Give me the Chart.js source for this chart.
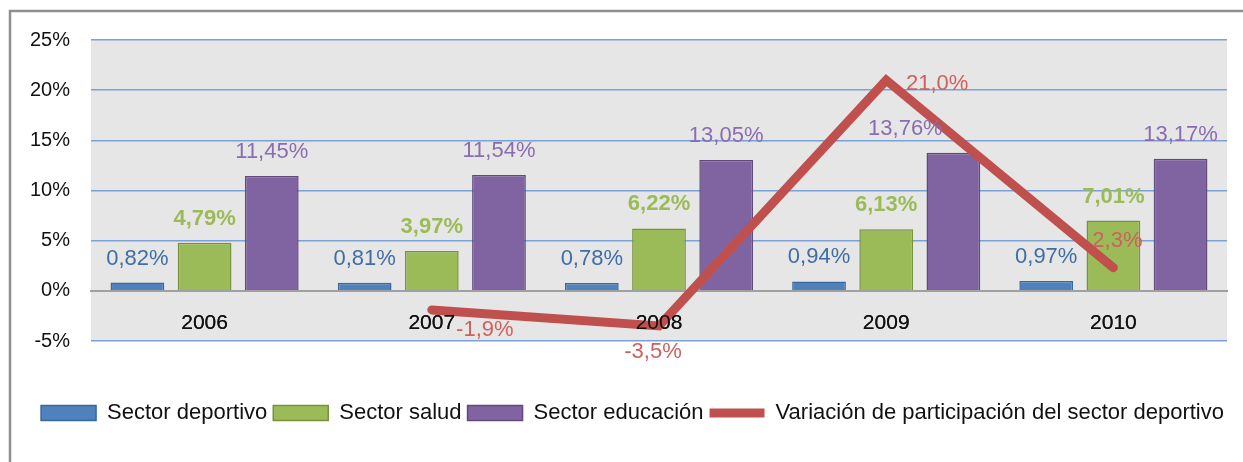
<!DOCTYPE html>
<html>
<head>
<meta charset="utf-8">
<script src="https://cdn.jsdelivr.net/npm/chart.js@4.4.1/dist/chart.umd.min.js"></script>
<style>
  html, body { margin: 0; padding: 0; background: #ffffff; }
  #wrap { width: 1243px; height: 462px; }
</style>
</head>
<body>
<div id="wrap"><canvas id="chart" width="1243" height="462"></canvas></div>
<script>
// Data
const years = ['2006', '2007', '2008', '2009', '2010'];
const deportivo = [0.82, 0.81, 0.78, 0.94, 0.97];
const salud = [4.79, 3.97, 6.22, 6.13, 7.01];
const educacion = [11.45, 11.54, 13.05, 13.76, 13.17];
const variacion = [null, -1.9, -3.5, 21.0, 2.3];
const yTicks = [-5, 0, 5, 10, 15, 20, 25];

// label nudges (px) so the labels sit where the original put them
const educacionShift = [[0, 0], [0, 0], [0, 0], [-48, 0], [0, 0]];
const variacionShift = [[0, 0], [53, 20], [-6, 26], [51, 4], [4, -27]];

const FONT = "'Liberation Sans', Arial, sans-serif";

const fmt = (v, d) => v.toFixed(d).replace('.', ',') + '%';

// grey plot area + frame of the original picture
const backdrop = {
    id: 'backdrop',
    beforeDraw(chart) {
        const { ctx, chartArea: a } = chart;
        ctx.save();
        ctx.fillStyle = '#e6e6e6';
        ctx.fillRect(a.left, a.top, a.right - a.left, a.bottom - a.top);
        ctx.strokeStyle = '#8f8f8f';
        ctx.lineWidth = 2.5;
        ctx.beginPath();
        ctx.moveTo(10, 470);
        ctx.lineTo(10, 11);
        ctx.lineTo(1250, 11);
        ctx.stroke();
        ctx.restore();
    }
};

// value labels above bars and next to the line points
const valueLabels = {
    id: 'valueLabels',
    afterDatasetsDraw(chart) {
        const ctx = chart.ctx;
        // year labels sit on top of the red line in the original
        chart.scales.x.drawLabels(chart.chartArea);
        ctx.save();
        ctx.textAlign = 'center';
        ctx.textBaseline = 'middle';
        chart.data.datasets.forEach((ds, i) => {
            const meta = chart.getDatasetMeta(i);
            meta.data.forEach((el, j) => {
                const v = ds.data[j];
                if (v == null) return;
                const shift = ds.labelShift ? ds.labelShift[j] : [0, 0];
                ctx.font = (ds.labelBold ? 'bold ' : '') + '22px ' + FONT;
                ctx.fillStyle = ds.labelColor;
                if (ds.type === 'line') {
                    ctx.fillText(fmt(v, 1), el.x + shift[0], el.y + shift[1]);
                } else {
                    ctx.fillText(fmt(v, 2), el.x + shift[0], el.y - 24 + shift[1]);
                }
            });
        });
        ctx.restore();
    }
};

new Chart(document.getElementById('chart'), {
    type: 'bar',
    data: {
        labels: years,
        datasets: [{
            label: 'Sector deportivo',
            data: deportivo,
            backgroundColor: '#4f81bd',
            borderColor: '#3a679e',
            borderWidth: 1.5,
            labelColor: '#3f6ea6'
        }, {
            label: 'Sector salud',
            data: salud,
            backgroundColor: '#9bbb59',
            borderColor: '#76923c',
            borderWidth: 1.5,
            labelColor: '#9bbb59',
            labelBold: true
        }, {
            label: 'Sector educación',
            data: educacion,
            backgroundColor: '#8064a2',
            borderColor: '#5f4a7a',
            borderWidth: 1.5,
            labelColor: '#8a6db0',
            labelShift: educacionShift
        }, {
            type: 'line',
            label: 'Variación de participación del sector deportivo',
            data: variacion,
            borderColor: '#c0504d',
            backgroundColor: '#c0504d',
            borderWidth: 9,
            borderCapStyle: 'round',
            borderJoinStyle: 'miter',
            pointRadius: 0,
            tension: 0,
            order: -1,
            labelColor: '#d0605c',
            labelShift: variacionShift
        }]
    },
    options: {
        responsive: false,
        animation: false,
        datasets: {
            bar: { barPercentage: 0.8, categoryPercentage: 0.887 }
        },
        layout: { padding: { top: 40, right: 0, left: 22, bottom: 28 } },
        plugins: {
            tooltip: { enabled: false },
            title: { display: false },
            legend: {
                position: 'bottom',
                labels: {
                    usePointStyle: true,
                    pointStyleWidth: 55,
                    boxHeight: 15,
                    padding: 6,
                    color: '#111111',
                    font: { family: FONT, size: 22 },
                    sort: (a, b) => a.datasetIndex - b.datasetIndex,
                    generateLabels(chart) {
                        const items = Chart.defaults.plugins.legend.labels.generateLabels(chart);
                        items.forEach(it => {
                            it.pointStyle = it.datasetIndex === 3 ? 'line' : 'rect';
                        });
                        return items;
                    }
                }
            }
        },
        scales: {
            x: {
                position: { y: 0 },
                grid: { display: false },
                border: { color: '#a0a0a0', width: 2 },
                ticks: { color: '#111111', padding: 12, font: { family: FONT, size: 21 } }
            },
            xPad: {
                type: 'category',
                position: 'bottom',
                grid: { display: false },
                border: { display: false },
                ticks: { display: false },
                afterFit(s) { s.height = 55; }
            },
            y: {
                min: -5,
                max: 25,
                afterBuildTicks(s) { s.ticks = yTicks.map(v => ({ value: v })); },
                grid: { color: '#7aa2d6', lineWidth: 1.5, drawTicks: false },
                border: { display: false },
                ticks: {
                    padding: 21,
                    color: '#111111',
                    font: { family: FONT, size: 20 },
                    callback: v => v + '%'
                },
                afterFit(s) { s.width = 69; }
            },
            yPad: {
                position: 'right',
                min: -5,
                max: 25,
                grid: { display: false },
                border: { display: false },
                ticks: { display: false },
                afterFit(s) { s.width = 16; }
            }
        }
    },
    plugins: [backdrop, valueLabels]
});
</script>
</body>
</html>
